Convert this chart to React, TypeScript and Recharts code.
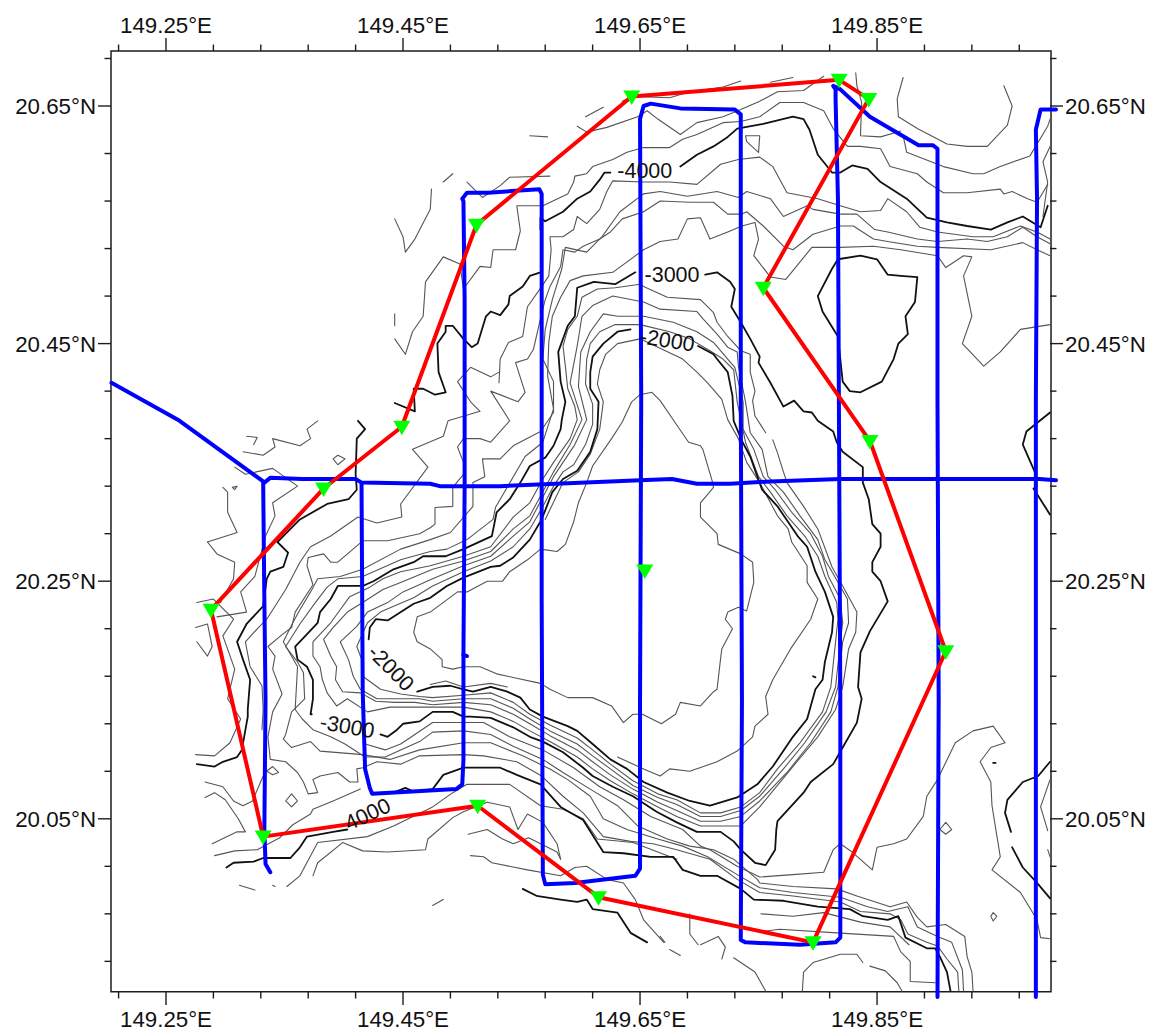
import { ComposedChart, Line, Scatter, XAxis, YAxis, ReferenceArea } from 'recharts'

type Pair = [number, number]

const lonDomain: [number, number] = [149.2036, 150.001]
const latDomain: [number, number] = [19.9, 20.6963]
const frameLon: [number, number] = [149.2036, 149.9968]
const frameLat: [number, number] = [19.9044, 20.6963]
const lonTicks = [149.21, 149.25, 149.29, 149.33, 149.37, 149.41, 149.45, 149.49, 149.53, 149.57, 149.61, 149.65, 149.69, 149.73, 149.77, 149.81, 149.85, 149.89, 149.93, 149.97]
const latTicks = [19.93, 19.97, 20.01, 20.05, 20.09, 20.13, 20.17, 20.21, 20.25, 20.29, 20.33, 20.37, 20.41, 20.45, 20.49, 20.53, 20.57, 20.61, 20.65, 20.69]
const lonLabels = [149.25, 149.45, 149.65, 149.85]
const latLabels = [20.05, 20.25, 20.45, 20.65]

// index contours (heavy)
const c2000West: Pair[] = [[149.421,20.201],[149.422,20.211],[149.427,20.218],[149.437,20.217],[149.459,20.231],[149.473,20.236],[149.487,20.246],[149.501,20.253],[149.524,20.262],[149.532,20.263],[149.543,20.270],[149.557,20.285],[149.567,20.302],[149.576,20.325],[149.585,20.336],[149.597,20.343],[149.608,20.359],[149.614,20.378],[149.615,20.401],[149.608,20.412],[149.608,20.426],[149.610,20.439],[149.619,20.450],[149.631,20.460],[149.642,20.462]]
const c2000East: Pair[] = [[149.699,20.448],[149.712,20.441],[149.715,20.437],[149.724,20.426],[149.728,20.406],[149.729,20.385],[149.736,20.368],[149.743,20.355],[149.749,20.338],[149.753,20.327],[149.766,20.313],[149.783,20.288],[149.791,20.279],[149.798,20.258],[149.806,20.241],[149.813,20.220],[149.812,20.207],[149.806,20.182],[149.804,20.167],[149.798,20.159],[149.791,20.134],[149.779,20.119],[149.762,20.094],[149.749,20.079],[149.732,20.068],[149.709,20.061],[149.692,20.065],[149.673,20.072],[149.653,20.081],[149.639,20.092],[149.625,20.100],[149.610,20.113],[149.597,20.124],[149.589,20.128],[149.568,20.136],[149.557,20.142],[149.549,20.152],[149.538,20.157],[149.524,20.161],[149.509,20.157],[149.501,20.159],[149.490,20.162],[149.475,20.161],[149.462,20.157]]
const c3000West: Pair[] = [[149.646,20.510],[149.629,20.500],[149.611,20.502],[149.597,20.497],[149.595,20.473],[149.589,20.465],[149.581,20.443],[149.583,20.418],[149.587,20.401],[149.584,20.386],[149.583,20.378],[149.577,20.364],[149.570,20.354],[149.557,20.347],[149.549,20.333],[149.540,20.319],[149.529,20.308],[149.525,20.288],[149.501,20.277],[149.486,20.271],[149.467,20.271],[149.459,20.266],[149.442,20.260],[149.425,20.250],[149.416,20.246],[149.395,20.246],[149.389,20.235],[149.380,20.224],[149.378,20.215],[149.359,20.195],[149.361,20.184],[149.369,20.178],[149.374,20.167],[149.374,20.151],[149.372,20.138],[149.373,20.138]]
const c3000East: Pair[] = [[149.431,20.121],[149.437,20.119],[149.445,20.125],[149.450,20.130],[149.464,20.132],[149.475,20.140],[149.492,20.140],[149.501,20.136],[149.507,20.136],[149.524,20.135],[149.543,20.127],[149.557,20.119],[149.568,20.115],[149.585,20.106],[149.602,20.093],[149.610,20.086],[149.627,20.077],[149.644,20.069],[149.664,20.056],[149.681,20.047],[149.698,20.039],[149.718,20.039],[149.729,20.031],[149.735,20.024],[149.747,20.013],[149.756,20.011],[149.764,20.024],[149.765,20.041],[149.766,20.048],[149.788,20.072],[149.794,20.081],[149.813,20.096],[149.821,20.110],[149.833,20.131],[149.837,20.151],[149.834,20.161],[149.836,20.190],[149.844,20.208],[149.859,20.233],[149.853,20.250],[149.846,20.258],[149.846,20.266],[149.853,20.279],[149.853,20.290],[149.846,20.298],[149.843,20.319],[149.838,20.333],[149.838,20.346],[149.821,20.359],[149.816,20.367],[149.813,20.376],[149.800,20.385],[149.795,20.392],[149.788,20.393],[149.780,20.402],[149.771,20.397],[149.760,20.417],[149.750,20.434],[149.751,20.439],[149.743,20.454],[149.735,20.468],[149.727,20.481],[149.730,20.496],[149.726,20.502],[149.715,20.510],[149.705,20.508]]
const c4000SouthWest: Pair[] = [[149.412,20.385],[149.418,20.378],[149.411,20.370],[149.410,20.340],[149.411,20.327],[149.404,20.319],[149.386,20.315],[149.363,20.302],[149.344,20.283],[149.353,20.274],[149.349,20.262],[149.338,20.258],[149.335,20.252],[149.332,20.229],[149.318,20.214],[149.310,20.199],[149.315,20.184],[149.321,20.167],[149.319,20.142],[149.319,20.136],[149.314,20.108],[149.310,20.102],[149.298,20.098],[149.291,20.094],[149.276,20.096]]
const c4000South: Pair[] = [[149.301,20.009],[149.307,20.013],[149.324,20.014],[149.332,20.017],[149.355,20.017],[149.363,20.026],[149.369,20.035],[149.391,20.039],[149.403,20.041]]
const c4000SouthBit: Pair[] = [[149.442,20.072],[149.452,20.076],[149.459,20.073],[149.475,20.075],[149.484,20.087],[149.501,20.093],[149.532,20.093],[149.546,20.087],[149.566,20.079],[149.583,20.060],[149.602,20.049],[149.619,20.022],[149.636,20.021],[149.659,20.018],[149.678,20.018],[149.686,20.007],[149.701,20.002],[149.715,20.002],[149.735,19.991],[149.746,19.982],[149.771,19.981],[149.800,19.976],[149.827,19.974],[149.838,19.968],[149.859,19.965],[149.868,19.968],[149.874,19.950],[149.892,19.941],[149.899,19.941],[149.903,19.934],[149.909,19.921],[149.912,19.905]]
const c4000NorthWest: Pair[] = [[149.443,20.400],[149.460,20.393],[149.459,20.412],[149.467,20.412],[149.477,20.407],[149.486,20.409],[149.480,20.426],[149.479,20.450],[149.486,20.460],[149.486,20.465],[149.492,20.465],[149.501,20.454],[149.508,20.447],[149.513,20.450],[149.520,20.473],[149.524,20.477],[149.532,20.474],[149.539,20.483],[149.540,20.490],[149.551,20.498],[149.557,20.507],[149.566,20.510]]
const c4000North: Pair[] = [[149.566,20.546],[149.566,20.556],[149.570,20.553],[149.585,20.561],[149.597,20.572],[149.608,20.578],[149.616,20.588],[149.620,20.594],[149.625,20.594]]
const c4000NorthEast: Pair[] = [[149.684,20.599],[149.698,20.609],[149.712,20.616],[149.724,20.624],[149.732,20.631],[149.754,20.635],[149.779,20.641],[149.788,20.639],[149.793,20.630],[149.800,20.609],[149.812,20.594],[149.819,20.594],[149.829,20.600],[149.842,20.597],[149.853,20.586],[149.875,20.572],[149.892,20.556],[149.909,20.552],[149.926,20.549],[149.946,20.546],[149.960,20.552],[149.973,20.557],[149.988,20.548],[149.994,20.566]]
const ringEast: Pair[] = [[149.812,20.513],[149.817,20.521],[149.836,20.524],[149.850,20.521],[149.859,20.508],[149.870,20.507],[149.884,20.506],[149.882,20.485],[149.874,20.473],[149.876,20.458],[149.868,20.450],[149.864,20.437],[149.854,20.418],[149.836,20.409],[149.827,20.410],[149.821,20.418],[149.817,20.456],[149.804,20.477],[149.800,20.490],[149.812,20.513]]
const heavyEastA: Pair[] = [[149.996,20.098],[149.986,20.086],[149.973,20.081],[149.960,20.066],[149.958,20.055],[149.963,20.039]]
const heavyEastB: Pair[] = [[149.964,20.026],[149.973,20.009],[149.985,19.996],[149.996,19.983]]
const heavyEastC: Pair[] = [[149.996,20.392],[149.976,20.376],[149.973,20.365],[149.984,20.340]]
const heavyEastD: Pair[] = [[149.982,20.328],[149.996,20.306]]
const heavyDotA: Pair[] = [[149.948,20.097],[149.950,20.097]]
const heavyDotB: Pair[] = [[149.796,20.170],[149.798,20.169]]
const heavyS1: Pair[] = [[149.551,19.991],[149.563,19.985]]
const heavyS2: Pair[] = [[149.564,19.985],[149.583,19.982],[149.597,19.980],[149.605,19.982],[149.610,19.974],[149.631,19.971],[149.642,19.954],[149.656,19.946]]

// intermediate contours (thin)
const summitRing: Pair[] = [[149.473,20.224],[149.462,20.220],[149.459,20.207],[149.462,20.199],[149.473,20.193],[149.483,20.184],[149.483,20.178],[149.492,20.176],[149.501,20.178],[149.515,20.178],[149.529,20.172],[149.543,20.169],[149.566,20.164],[149.574,20.159],[149.589,20.152],[149.610,20.152],[149.626,20.145],[149.636,20.131],[149.644,20.138],[149.652,20.138],[149.668,20.130],[149.680,20.138],[149.684,20.148],[149.701,20.145],[149.712,20.157],[149.715,20.159],[149.718,20.185],[149.719,20.193],[149.728,20.210],[149.722,20.218],[149.724,20.224],[149.733,20.228],[149.740,20.225],[149.746,20.249],[149.745,20.266],[149.735,20.273],[149.716,20.281],[149.715,20.290],[149.701,20.304],[149.701,20.316],[149.712,20.329],[149.711,20.334],[149.703,20.361],[149.701,20.364],[149.691,20.367],[149.682,20.380],[149.667,20.402],[149.660,20.409],[149.650,20.407],[149.643,20.401],[149.635,20.384],[149.626,20.370],[149.610,20.347],[149.605,20.333],[149.598,20.316],[149.594,20.300],[149.587,20.281],[149.580,20.275],[149.566,20.277],[149.555,20.268],[149.540,20.258],[149.534,20.250],[149.521,20.250],[149.504,20.241],[149.496,20.241],[149.473,20.224]]
const inner1800: Pair[] = [[149.570,20.302],[149.585,20.333],[149.598,20.342],[149.608,20.357],[149.616,20.378],[149.619,20.401],[149.614,20.416],[149.616,20.428],[149.621,20.441],[149.631,20.450],[149.650,20.454],[149.686,20.437],[149.698,20.426],[149.707,20.417],[149.719,20.403],[149.724,20.386],[149.733,20.370],[149.740,20.350],[149.751,20.333],[149.766,20.305],[149.775,20.294],[149.778,20.283],[149.791,20.263],[149.791,20.249],[149.800,20.235],[149.794,20.218],[149.777,20.193],[149.762,20.167],[149.756,20.153],[149.758,20.138],[149.747,20.128],[149.745,20.119],[149.732,20.107],[149.715,20.098],[149.692,20.090],[149.675,20.092],[149.667,20.086],[149.653,20.092],[149.631,20.102]]
const inner1800Tail: Pair[] = [[149.473,20.163],[149.486,20.166],[149.501,20.161],[149.524,20.164],[149.538,20.161]]
const band1: Pair[] = [[149.650,20.466],[149.675,20.460],[149.692,20.454],[149.709,20.444],[149.720,20.437],[149.729,20.428],[149.732,20.401],[149.739,20.367],[149.750,20.338],[149.760,20.325],[149.774,20.305],[149.789,20.288],[149.800,20.271],[149.806,20.254],[149.816,20.232],[149.817,20.218],[149.815,20.199],[149.811,20.161],[149.804,20.140],[149.785,20.114],[149.766,20.092],[149.751,20.072],[149.735,20.060],[149.718,20.055],[149.701,20.055],[149.681,20.066],[149.665,20.071],[149.644,20.082],[149.625,20.096],[149.610,20.108],[149.597,20.118],[149.574,20.129],[149.557,20.138],[149.543,20.148],[149.524,20.156],[149.501,20.154],[149.475,20.152],[149.464,20.153],[149.448,20.155],[149.431,20.159],[149.416,20.170],[149.416,20.182],[149.411,20.195],[149.420,20.215],[149.431,20.224],[149.442,20.229],[149.459,20.236],[149.475,20.246],[149.501,20.258],[149.524,20.267],[149.543,20.279],[149.557,20.294],[149.567,20.311],[149.577,20.330],[149.585,20.342],[149.594,20.348],[149.604,20.365],[149.610,20.382],[149.610,20.399],[149.604,20.416],[149.605,20.437],[149.608,20.450],[149.616,20.460],[149.629,20.466],[149.650,20.466]]
const band2: Pair[] = [[149.653,20.473],[149.678,20.468],[149.698,20.460],[149.712,20.451],[149.724,20.437],[149.730,20.430],[149.737,20.401],[149.737,20.378],[149.746,20.361],[149.754,20.338],[149.764,20.327],[149.778,20.308],[149.794,20.290],[149.804,20.271],[149.809,20.254],[149.819,20.235],[149.821,20.215],[149.819,20.199],[149.815,20.161],[149.807,20.140],[149.789,20.114],[149.771,20.092],[149.751,20.069],[149.735,20.057],[149.718,20.052],[149.701,20.052],[149.681,20.062],[149.665,20.068],[149.644,20.078],[149.625,20.092],[149.610,20.103],[149.597,20.113],[149.574,20.124],[149.557,20.134],[149.543,20.143],[149.524,20.151],[149.501,20.151],[149.475,20.149],[149.464,20.151],[149.448,20.151],[149.428,20.151],[149.414,20.159],[149.408,20.170],[149.404,20.184],[149.397,20.199],[149.411,20.212],[149.420,20.224],[149.437,20.232],[149.450,20.241],[149.475,20.252],[149.501,20.263],[149.524,20.271],[149.543,20.288],[149.557,20.300],[149.577,20.338],[149.595,20.365],[149.605,20.386],[149.598,20.414],[149.600,20.443],[149.608,20.460],[149.619,20.475],[149.631,20.473],[149.653,20.473]]
const band3: Pair[] = [[149.653,20.485],[149.667,20.479],[149.698,20.477],[149.703,20.471],[149.715,20.458],[149.724,20.447],[149.732,20.443],[149.733,20.431],[149.739,20.401],[149.743,20.375],[149.753,20.361],[149.758,20.338],[149.771,20.325],[149.785,20.305],[149.800,20.285],[149.806,20.268],[149.812,20.258],[149.825,20.235],[149.826,20.215],[149.821,20.199],[149.817,20.161],[149.811,20.140],[149.794,20.114],[149.774,20.089],[149.751,20.065],[149.735,20.052],[149.718,20.048],[149.701,20.048],[149.681,20.057],[149.665,20.064],[149.644,20.075],[149.625,20.087],[149.610,20.098],[149.597,20.108],[149.574,20.120],[149.557,20.130],[149.543,20.138],[149.524,20.146],[149.501,20.148],[149.475,20.146],[149.460,20.148],[149.443,20.148],[149.427,20.149],[149.414,20.156],[149.399,20.157],[149.393,20.167],[149.394,20.178],[149.389,20.187],[149.383,20.201],[149.391,20.211],[149.403,20.224],[149.416,20.232],[149.433,20.243],[149.448,20.249],[149.475,20.260],[149.501,20.267],[149.524,20.275],[149.543,20.294],[149.557,20.305],[149.577,20.342],[149.591,20.365],[149.601,20.386],[149.591,20.417],[149.597,20.448],[149.601,20.473],[149.610,20.482],[149.627,20.490],[149.653,20.485]]
const band4North: Pair[] = [[149.650,20.500],[149.653,20.498],[149.673,20.489],[149.701,20.487],[149.712,20.476],[149.715,20.468],[149.724,20.456],[149.735,20.444],[149.743,20.441],[149.743,20.426],[149.747,20.410],[149.745,20.402],[149.747,20.389],[149.756,20.375]]
const band4: Pair[] = [[149.762,20.369],[149.766,20.358],[149.771,20.342],[149.774,20.333],[149.788,20.313],[149.800,20.294],[149.812,20.262],[149.821,20.246],[149.833,20.224],[149.832,20.207],[149.826,20.193],[149.821,20.161],[149.815,20.142],[149.800,20.119],[149.779,20.094],[149.751,20.060],[149.735,20.044],[149.718,20.044],[149.701,20.044],[149.681,20.052],[149.665,20.060],[149.644,20.071],[149.625,20.082],[149.610,20.092],[149.597,20.102],[149.574,20.115],[149.557,20.124],[149.543,20.132],[149.524,20.140],[149.501,20.144],[149.475,20.144],[149.456,20.144],[149.439,20.144],[149.420,20.140],[149.403,20.151],[149.394,20.145],[149.386,20.156],[149.382,20.167],[149.380,20.178],[149.374,20.187],[149.374,20.199],[149.389,20.215],[149.397,20.226],[149.405,20.237],[149.422,20.245],[149.433,20.252],[149.448,20.258],[149.473,20.263],[149.501,20.271],[149.524,20.279],[149.543,20.304],[149.557,20.316],[149.568,20.336],[149.577,20.350],[149.591,20.370],[149.597,20.386],[149.595,20.397],[149.589,20.412],[149.587,20.431],[149.585,20.448],[149.589,20.462],[149.597,20.473],[149.601,20.489],[149.614,20.496],[149.629,20.497],[149.650,20.500]]
const lineA: Pair[] = [[149.443,20.454],[149.452,20.441],[149.458,20.460],[149.467,20.473],[149.469,20.502],[149.484,20.523],[149.498,20.517],[149.501,20.496],[149.515,20.515],[149.524,20.514],[149.526,20.529],[149.545,20.529],[149.549,20.545],[149.546,20.566],[149.568,20.566],[149.589,20.576],[149.594,20.586],[149.595,20.591],[149.605,20.593],[149.610,20.599],[149.627,20.605],[149.639,20.611],[149.653,20.615],[149.675,20.615],[149.686,20.622],[149.698,20.626],[149.720,20.636],[149.735,20.637],[149.751,20.641],[149.768,20.653],[149.788,20.653],[149.805,20.646],[149.813,20.631],[149.825,20.616],[149.836,20.616],[149.853,20.614],[149.861,20.599],[149.884,20.593],[149.892,20.586],[149.906,20.577],[149.926,20.577],[149.954,20.580],[149.957,20.576],[149.964,20.578],[149.977,20.572],[149.985,20.569],[149.994,20.584]]
const lineB: Pair[] = [[149.531,20.417],[149.532,20.437],[149.539,20.451],[149.551,20.456],[149.555,20.481],[149.567,20.498],[149.573,20.507],[149.575,20.529],[149.574,20.540],[149.585,20.540],[149.594,20.546],[149.597,20.557],[149.605,20.551],[149.616,20.563],[149.622,20.578],[149.627,20.587],[149.653,20.586],[149.675,20.586],[149.698,20.584],[149.718,20.601],[149.733,20.605],[149.751,20.607],[149.762,20.599],[149.774,20.577],[149.800,20.572],[149.819,20.566],[149.836,20.561],[149.853,20.562],[149.859,20.572],[149.875,20.561],[149.886,20.548],[149.901,20.544],[149.931,20.540],[149.948,20.540],[149.971,20.549],[149.985,20.544],[149.996,20.538]]
const lineBWest: Pair[] = [[149.531,20.426],[149.524,20.422],[149.507,20.430],[149.496,20.418],[149.507,20.401],[149.515,20.393],[149.488,20.385],[149.484,20.372],[149.458,20.361],[149.471,20.346],[149.448,20.315],[149.449,20.304],[149.428,20.299],[149.412,20.304],[149.389,20.288],[149.372,20.279],[149.363,20.266],[149.351,20.243],[149.335,20.218],[149.328,20.211],[149.317,20.199],[149.321,20.178],[149.331,20.162],[149.332,20.142],[149.331,20.125]]
const lineC: Pair[] = [[149.653,20.576],[149.633,20.561],[149.618,20.540],[149.605,20.527],[149.587,20.531],[149.584,20.513],[149.576,20.487],[149.570,20.462],[149.568,20.437],[149.577,20.418],[149.577,20.392],[149.566,20.376],[149.543,20.364],[149.532,20.353],[149.517,20.353],[149.519,20.338],[149.509,20.333],[149.509,20.313],[149.490,20.291],[149.473,20.285],[149.448,20.277],[149.416,20.260],[149.397,20.254],[149.378,20.252],[149.372,20.241],[149.363,20.226],[149.357,20.215],[149.349,20.199],[149.361,20.178],[149.359,20.142],[149.365,20.134],[149.374,20.125],[149.389,20.119],[149.401,20.113],[149.418,20.102],[149.435,20.102],[149.448,20.108],[149.464,20.115],[149.475,20.123],[149.501,20.124],[149.524,20.121],[149.543,20.111],[149.568,20.100],[149.585,20.089],[149.608,20.075],[149.631,20.061],[149.648,20.044],[149.673,20.033],[149.692,20.027],[149.712,20.024],[149.729,20.016],[149.749,19.999],[149.751,19.996],[149.779,19.993],[149.816,19.991],[149.833,19.985],[149.861,19.976],[149.875,19.980],[149.884,19.967],[149.892,19.959],[149.908,19.961],[149.924,19.951],[149.926,19.934],[149.930,19.921],[149.931,19.905]]
const lineCEast: Pair[] = [[149.653,20.576],[149.667,20.578],[149.690,20.574],[149.715,20.578],[149.733,20.573],[149.740,20.578],[149.760,20.572],[149.771,20.557],[149.791,20.566],[149.796,20.563],[149.819,20.559],[149.833,20.559],[149.848,20.546],[149.859,20.544],[149.884,20.538],[149.901,20.536],[149.926,20.538],[149.943,20.536],[149.960,20.540],[149.973,20.548],[149.985,20.540],[149.996,20.534]]
const lineD: Pair[] = [[149.653,20.561],[149.635,20.555],[149.625,20.544],[149.616,20.538],[149.602,20.532],[149.595,20.527],[149.585,20.529],[149.583,20.515],[149.574,20.498],[149.570,20.487],[149.566,20.471],[149.560,20.445],[149.555,20.437],[149.545,20.434],[149.553,20.409],[149.547,20.401],[149.524,20.410],[149.540,20.385],[149.524,20.367],[149.515,20.370],[149.501,20.370],[149.496,20.363],[149.501,20.350],[149.501,20.340],[149.492,20.329],[149.492,20.313],[149.477,20.312],[149.477,20.298],[149.473,20.295],[149.464,20.290],[149.437,20.284],[149.416,20.284],[149.395,20.266],[149.389,20.266],[149.383,20.273],[149.370,20.270],[149.369,20.263],[149.374,20.247],[149.359,20.224],[149.356,20.211],[149.348,20.205],[149.336,20.195],[149.342,20.187],[149.340,20.176],[149.348,20.155],[149.340,20.140],[149.336,20.119],[149.338,20.100],[149.351,20.098],[149.361,20.089],[149.366,20.081],[149.370,20.071],[149.378,20.072],[149.374,20.083],[149.380,20.086],[149.395,20.089],[149.405,20.081],[149.412,20.081],[149.411,20.092],[149.416,20.093],[149.428,20.098],[149.448,20.096],[149.464,20.103],[149.501,20.104],[149.518,20.103],[149.546,20.098],[149.567,20.086],[149.585,20.069],[149.602,20.055],[149.619,20.035],[149.642,20.031],[149.661,20.029],[149.681,20.024],[149.709,20.016],[149.732,19.999],[149.751,19.988],[149.779,19.985],[149.819,19.980],[149.836,19.972],[149.861,19.970],[149.870,19.965],[149.876,19.953],[149.892,19.946],[149.901,19.943],[149.909,19.932],[149.918,19.921],[149.919,19.905]]
const lineDEast: Pair[] = [[149.653,20.561],[149.667,20.570],[149.692,20.569],[149.712,20.569],[149.724,20.559],[149.736,20.559],[149.740,20.561],[149.754,20.549],[149.771,20.532],[149.779,20.529],[149.796,20.542],[149.819,20.549],[149.830,20.549],[149.847,20.538],[149.859,20.536],[149.884,20.532],[149.901,20.531],[149.946,20.529],[149.973,20.535],[149.985,20.529],[149.996,20.524]]
const lineE: Pair[] = [[149.653,20.529],[149.627,20.510],[149.602,20.507],[149.591,20.503],[149.583,20.489],[149.576,20.473],[149.573,20.451],[149.572,20.423],[149.577,20.395],[149.568,20.367],[149.553,20.355],[149.528,20.312],[149.526,20.302],[149.504,20.285],[149.487,20.277],[149.473,20.275],[149.448,20.268],[149.416,20.254],[149.395,20.252],[149.386,20.245],[149.376,20.232],[149.363,20.214],[149.351,20.195],[149.361,20.182],[149.366,20.173],[149.367,20.151],[149.356,20.140],[149.351,20.121],[149.349,20.117],[149.356,20.110],[149.372,20.115],[149.380,20.107],[149.416,20.104],[149.439,20.100],[149.464,20.108],[149.501,20.114],[149.524,20.114],[149.551,20.103],[149.574,20.092],[149.589,20.083],[149.608,20.069],[149.619,20.050],[149.639,20.041],[149.665,20.033],[149.686,20.027],[149.707,20.018],[149.732,20.003],[149.751,19.992],[149.779,19.988],[149.819,19.984],[149.842,19.976],[149.859,19.972],[149.876,19.976],[149.884,19.959],[149.901,19.951],[149.913,19.946],[149.922,19.923],[149.923,19.905]]
const lineEEast: Pair[] = [[149.653,20.529],[149.667,20.536],[149.682,20.538],[149.690,20.555],[149.701,20.556],[149.709,20.538],[149.724,20.544],[149.736,20.549],[149.747,20.552],[149.750,20.538],[149.746,20.524],[149.760,20.506],[149.773,20.504],[149.795,20.531],[149.819,20.531],[149.847,20.532],[149.870,20.529],[149.901,20.524],[149.908,20.514],[149.923,20.524],[149.930,20.523],[149.923,20.507],[149.930,20.473],[149.922,20.450],[149.940,20.431],[149.954,20.443],[149.971,20.462],[149.996,20.466]]
const tLine0: Pair[] = [[149.418,20.113],[149.435,20.108],[149.448,20.113],[149.460,20.121],[149.475,20.131],[149.518,20.131],[149.540,20.119],[149.568,20.108],[149.594,20.093],[149.616,20.077],[149.636,20.066],[149.659,20.052],[149.686,20.041],[149.701,20.027],[149.709,20.024],[149.732,20.010],[149.751,20.001],[149.779,20.003],[149.805,20.005],[149.813,20.024],[149.819,20.029],[149.829,20.022],[149.846,20.007],[149.850,20.026],[149.864,20.029],[149.875,20.033],[149.889,20.052],[149.892,20.069],[149.901,20.083],[149.916,20.114],[149.931,20.124],[149.948,20.128],[149.958,20.114],[149.946,20.110],[149.937,20.098],[149.946,20.081],[149.947,20.061],[149.954,20.018],[149.947,20.007],[149.971,19.988],[149.985,19.965],[149.988,19.950],[149.996,19.949]]
const topA: Pair[] = [[149.597,20.633],[149.605,20.628],[149.622,20.632],[149.648,20.641],[149.656,20.646],[149.665,20.639],[149.684,20.626],[149.698,20.636],[149.720,20.641],[149.735,20.647],[149.751,20.654],[149.766,20.662],[149.788,20.663],[149.802,20.673],[149.805,20.675]]
const topB: Pair[] = [[149.635,20.654],[149.644,20.658],[149.675,20.657],[149.692,20.662],[149.720,20.666],[149.735,20.671]]
const topC: Pair[] = [[149.760,20.670],[149.779,20.674]]
const topD: Pair[] = [[149.604,20.641],[149.619,20.649]]
const topE: Pair[] = [[149.557,20.625],[149.572,20.624]]
const topF: Pair[] = [[149.504,20.586],[149.517,20.573],[149.532,20.583],[149.540,20.590],[149.574,20.591]]
const topG: Pair[] = [[149.484,20.586],[149.492,20.593]]
const topH: Pair[] = [[149.832,20.678],[149.833,20.667],[149.837,20.653],[149.836,20.625],[149.853,20.624],[149.870,20.629]]
const bowlA: Pair[] = [[149.872,20.674],[149.867,20.656],[149.868,20.641],[149.884,20.631],[149.909,20.618],[149.926,20.616],[149.943,20.616],[149.960,20.634],[149.964,20.650],[149.957,20.667]]
const bowlB: Pair[] = [[149.872,20.625],[149.875,20.611],[149.906,20.599],[149.931,20.593],[149.940,20.593],[149.954,20.599],[149.979,20.608],[149.994,20.633],[149.996,20.639]]
const edgeTop: Pair[] = [[149.996,20.616],[149.990,20.603],[149.994,20.586],[149.990,20.557]]
const pentagon: Pair[] = [[149.739,20.625],[149.751,20.625],[149.750,20.611],[149.740,20.620],[149.739,20.625]]
const westA: Pair[] = [[149.443,20.555],[149.450,20.540],[149.452,20.527],[149.460,20.538],[149.473,20.563],[149.474,20.580]]
const westB: Pair[] = [[149.443,20.475],[149.443,20.465]]
const westC: Pair[] = [[149.308,20.346],[149.317,20.340],[149.340,20.345],[149.361,20.330],[149.340,20.316],[149.342,20.305],[149.334,20.288],[149.325,20.254],[149.313,20.241],[149.318,20.224],[149.293,20.220]]
const westD: Pair[] = [[149.315,20.359],[149.332,20.356],[149.342,20.363],[149.340,20.370],[149.363,20.364],[149.372,20.370],[149.369,20.378],[149.378,20.385]]
const westE: Pair[] = [[149.318,20.372],[149.327,20.371],[149.324,20.365]]
const westF: Pair[] = [[149.285,20.283],[149.310,20.291],[149.302,20.308],[149.302,20.325],[149.298,20.329]]
const westG: Pair[] = [[149.285,20.283],[149.293,20.273],[149.308,20.266],[149.307,20.252],[149.296,20.232]]
const westH: Pair[] = [[149.276,20.232],[149.290,20.235],[149.307,20.218],[149.298,20.204],[149.308,20.176],[149.302,20.151],[149.313,20.134],[149.304,20.114],[149.291,20.103],[149.275,20.104]]
const westI: Pair[] = [[149.276,20.199],[149.285,20.187],[149.289,20.195],[149.285,20.214],[149.275,20.211]]
const southA: Pair[] = [[149.283,20.081],[149.298,20.077],[149.307,20.065],[149.315,20.061],[149.323,20.065],[149.332,20.086]]
const southB: Pair[] = [[149.283,20.068],[149.291,20.072],[149.300,20.066],[149.311,20.050],[149.317,20.039],[149.310,20.039],[149.289,20.029]]
const southC: Pair[] = [[149.291,20.019],[149.308,20.023],[149.327,20.024],[149.346,20.034],[149.357,20.045],[149.372,20.054],[149.374,20.058],[149.391,20.065],[149.414,20.075]]
const lowA: Pair[] = [[149.507,20.019],[149.518,20.018],[149.525,20.013],[149.555,20.007],[149.583,20.002],[149.595,20.009],[149.605,20.010],[149.622,19.999],[149.636,19.996],[149.646,19.982],[149.653,19.965],[149.670,19.946]]
const lowB: Pair[] = [[149.505,20.037],[149.521,20.041],[149.534,20.033],[149.543,20.029],[149.556,20.034],[149.580,20.022],[149.583,20.016]]
const lowC: Pair[] = [[149.374,20.002],[149.378,20.013],[149.399,20.030],[149.416,20.023],[149.437,20.022],[149.469,20.024],[149.471,20.033],[149.492,20.051],[149.501,20.056],[149.521,20.064],[149.540,20.060],[149.547,20.041],[149.555,20.054],[149.568,20.047],[149.580,20.029],[149.583,20.016]]
const lowD: Pair[] = [[149.352,19.993],[149.363,20.002],[149.378,20.030],[149.420,20.035],[149.442,20.044],[149.475,20.060],[149.492,20.072],[149.504,20.079],[149.540,20.079],[149.566,20.061],[149.585,20.058],[149.602,20.050],[149.614,20.033],[149.644,20.030],[149.665,20.022],[149.681,20.016]]
const tailA: Pair[] = [[149.752,19.970],[149.779,19.968],[149.805,19.971],[149.836,19.963],[149.861,19.959],[149.877,19.944]]
const tailB: Pair[] = [[149.752,19.955],[149.768,19.957],[149.816,19.954],[149.864,19.951],[149.870,19.938],[149.878,19.930],[149.878,19.913],[149.899,19.912]]
const hillA: Pair[] = [[149.787,19.905],[149.788,19.921],[149.796,19.929],[149.819,19.936],[149.833,19.936],[149.838,19.929]]
const hillB: Pair[] = [[149.844,19.926],[149.857,19.922],[149.867,19.912],[149.871,19.905]]
const hillC: Pair[] = [[149.729,19.933],[149.747,19.921],[149.756,19.905]]
const hillD: Pair[] = [[149.701,19.944],[149.716,19.951],[149.722,19.942],[149.719,19.932]]
const hillE: Pair[] = [[149.692,19.970],[149.692,19.953],[149.699,19.944]]
const bitsA: Pair[] = [[149.667,19.951],[149.671,19.946]]
const bitsB: Pair[] = [[149.675,19.940],[149.684,19.935]]
const bitsC: Pair[] = [[149.312,19.994],[149.325,19.990]]
const bitsD: Pair[] = [[149.340,19.994],[149.342,19.993]]
const bitsE: Pair[] = [[149.475,19.977],[149.484,19.982]]
const diamondA: Pair[] = [[149.903,20.041],[149.908,20.047],[149.913,20.041],[149.908,20.037],[149.903,20.041]]
const diamondB: Pair[] = [[149.946,19.968],[149.948,19.971],[149.951,19.968],[149.948,19.964],[149.946,19.968]]
const diamondC: Pair[] = [[149.351,20.065],[149.356,20.071],[149.361,20.065],[149.356,20.060],[149.351,20.065]]
const diamondD: Pair[] = [[149.335,20.090],[149.340,20.094],[149.345,20.089],[149.340,20.087],[149.335,20.090]]
const diamondE: Pair[] = [[149.391,20.353],[149.395,20.356],[149.401,20.353],[149.395,20.348],[149.391,20.353]]
const diamondF: Pair[] = [[149.306,20.329],[149.310,20.330],[149.308,20.327],[149.306,20.329]]
const edgeA: Pair[] = [[149.996,20.083],[149.988,20.060],[149.994,20.040]]
const edgeB: Pair[] = [[149.994,20.024],[149.996,20.018]]

const heavyContours = [c2000West, c2000East, c3000West, c3000East, c4000SouthWest, c4000South, c4000SouthBit, c4000NorthWest, c4000North, c4000NorthEast, ringEast, heavyEastA, heavyEastB, heavyEastC, heavyEastD, heavyDotA, heavyDotB, heavyS1, heavyS2]
const thinContours = [summitRing, inner1800, inner1800Tail, band1, band2, band3, band4North, band4, lineA, lineB, lineBWest, lineC, lineCEast, lineD, lineDEast, lineE, lineEEast, tLine0, topA, topB, topC, topD, topE, topF, topG, topH, bowlA, bowlB, edgeTop, pentagon, westA, westB, westC, westD, westE, westF, westG, westH, westI, southA, southB, southC, lowA, lowB, lowC, lowD, tailA, tailB, hillA, hillB, hillC, hillD, hillE, bitsA, bitsB, bitsC, bitsD, bitsE, diamondA, diamondB, diamondC, diamondD, diamondE, diamondF, edgeA, edgeB]

// ship tracks
const trackApproach: Pair[] = [[149.204,20.417],[149.260,20.386],[149.332,20.334],[149.333,20.235],[149.334,20.150],[149.333,20.041],[149.334,20.012],[149.338,20.005]]
const trackCross: Pair[] = [[149.333,20.333],[149.338,20.337],[149.365,20.336],[149.410,20.336],[149.415,20.333],[149.473,20.332],[149.481,20.330],[149.532,20.330],[149.650,20.335],[149.677,20.336],[149.698,20.332],[149.726,20.332],[149.760,20.334],[149.819,20.336],[149.888,20.336],[149.950,20.336],[149.987,20.336],[150.001,20.335]]
const trackGrid: Pair[] = [[149.415,20.332],[149.416,20.157],[149.418,20.092],[149.422,20.076],[149.424,20.071],[149.495,20.075],[149.500,20.079],[149.501,20.100],[149.501,20.190],[149.502,20.330],[149.502,20.487],[149.501,20.570],[149.500,20.572],[149.504,20.577],[149.522,20.577],[149.565,20.580],[149.567,20.576],[149.567,20.403],[149.567,20.235],[149.568,20.003],[149.570,19.995],[149.595,19.996],[149.646,20.002],[149.650,20.008],[149.650,20.150],[149.651,20.403],[149.650,20.639],[149.653,20.650],[149.659,20.652],[149.684,20.648],[149.730,20.647],[149.735,20.643],[149.735,20.403],[149.736,20.150],[149.735,19.948],[149.739,19.946],[149.785,19.944],[149.815,19.946],[149.819,19.950],[149.819,20.150],[149.817,20.572],[149.815,20.656],[149.815,20.664],[149.813,20.667],[149.819,20.664],[149.844,20.641],[149.885,20.617],[149.897,20.617],[149.901,20.614],[149.901,20.403],[149.902,20.150],[149.901,19.900]]
const trackLast: Pair[] = [[149.984,19.900],[149.984,20.150],[149.984,20.403],[149.985,20.572],[149.984,20.630],[149.988,20.647],[150.001,20.647]]
const trackStub: Pair[] = [[149.501,20.188],[149.504,20.187]]

const route: Pair[] = [[149.288,20.226],[149.383,20.328],[149.449,20.380],[149.512,20.550],[149.643,20.658],[149.818,20.672],[149.843,20.656],[149.754,20.497],[149.844,20.368],[149.908,20.191],[149.796,19.946],[149.615,19.984],[149.513,20.061],[149.332,20.035],[149.288,20.226]]
const stations: Pair[] = [[149.288,20.226],[149.383,20.328],[149.449,20.380],[149.512,20.550],[149.643,20.658],[149.818,20.672],[149.843,20.656],[149.754,20.497],[149.844,20.368],[149.908,20.191],[149.796,19.946],[149.615,19.984],[149.513,20.061],[149.332,20.035],[149.654,20.259]]

const contourLabelPoints: Pair[] = [[149.654,20.596],[149.677,20.508],[149.673,20.453],[149.440,20.177],[149.403,20.128],[149.420,20.054]]
const contourLabelTexts = ['-4000', '-3000', '-2000', '-2000', '-3000', '4000']
const contourLabelAngles = [0, 0, 9, 45, 10, -25]

const toPoints = (pairs: Pair[]) => pairs.map(([lon, lat]) => ({ lon, lat }))

const AXIS = '#1c1c1c'
const FONT = '"Liberation Sans", Arial, sans-serif'
// the plot runs a little past the frame so that the tracks can overshoot it
const OVERSHOOT_X = 6
const OVERSHOOT_Y = 5

function LonTick({ x, y, payload, side }: any) {
  const major = lonLabels.includes(payload.value)
  const top = side === 'top'
  const y0 = top ? y : y - OVERSHOOT_Y
  return (
    <g>
      <line x1={x} x2={x} y1={y0} y2={y0 + (top ? -1 : 1) * (major ? 13 : 6.5)} stroke={AXIS} strokeWidth={1.4} />
      {major && (
        <text x={x} y={top ? y0 - 18 : y0 + 35} textAnchor="middle" fontSize={22.3} fontFamily={FONT} fill="#111">
          {payload.value.toFixed(2)}°E
        </text>
      )}
    </g>
  )
}

function LatTick({ x, y, payload, side }: any) {
  const major = latLabels.includes(payload.value)
  const left = side === 'left'
  const x0 = left ? x : x - OVERSHOOT_X
  return (
    <g>
      <line x1={x0} x2={x0 + (left ? -1 : 1) * (major ? 13 : 6.5)} y1={y} y2={y} stroke={AXIS} strokeWidth={1.4} />
      {major && (
        <text x={left ? x0 - 15 : x0 + 15} y={y + 8} textAnchor={left ? 'end' : 'start'} fontSize={22.3} fontFamily={FONT} fill="#111">
          {payload.value.toFixed(2)}°N
        </text>
      )}
    </g>
  )
}

function StationMark({ cx, cy }: any) {
  return <polygon points={`${cx - 8.5},${cy - 6} ${cx + 8.5},${cy - 6} ${cx},${cy + 8.5}`} fill="#00ff00" />
}

function ContourLabel({ cx, cy, index }: any) {
  return (
    <text
      x={cx}
      y={cy + 7.5}
      textAnchor="middle"
      fontSize={21.5}
      fontFamily={FONT}
      fill="#111"
      transform={`rotate(${contourLabelAngles[index]} ${cx} ${cy})`}
    >
      {contourLabelTexts[index]}
    </text>
  )
}

export default function App() {
  const line = (pairs: Pair[], key: string, stroke: string, width: number) => (
    <Line
      key={key}
      data={toPoints(pairs)}
      dataKey="lat"
      xAxisId="lon"
      yAxisId="lat"
      stroke={stroke}
      strokeWidth={width}
      strokeLinejoin="round"
      strokeLinecap="round"
      dot={false}
      activeDot={false}
      legendType="none"
      isAnimationActive={false}
    />
  )

  return (
    <div style={{ position: 'absolute', left: 0, top: 0, width: 1161, height: 1034, background: '#fff' }}>
      <ComposedChart width={1161} height={1034} margin={{ top: 0, right: 0, bottom: 0, left: 0 }}>
        <XAxis xAxisId="lon" dataKey="lon" type="number" orientation="bottom" height={37} domain={lonDomain} ticks={lonTicks} interval={0} axisLine={false} tickLine={false} tickSize={0} tickMargin={0} tick={<LonTick side="bottom" />} />
        <XAxis xAxisId="lonTop" dataKey="lon" type="number" orientation="top" height={51} domain={lonDomain} ticks={lonTicks} interval={0} axisLine={false} tickLine={false} tickSize={0} tickMargin={0} tick={<LonTick side="top" />} />
        <YAxis yAxisId="lat" dataKey="lat" type="number" orientation="left" width={111} domain={latDomain} ticks={latTicks} interval={0} axisLine={false} tickLine={false} tickSize={0} tickMargin={0} tick={<LatTick side="left" />} />
        <YAxis yAxisId="latRight" dataKey="lat" type="number" orientation="right" width={105} domain={latDomain} ticks={latTicks} interval={0} axisLine={false} tickLine={false} tickSize={0} tickMargin={0} tick={<LatTick side="right" />} />
        <ReferenceArea xAxisId="lon" yAxisId="lat" x1={frameLon[0]} x2={frameLon[1]} y1={frameLat[0]} y2={frameLat[1]} fill="none" stroke={AXIS} strokeWidth={1.5} />
        <Line data={toPoints([[lonTicks[0], latTicks[0]], [lonTicks[19], latTicks[19]]])} dataKey="lat" xAxisId="lonTop" yAxisId="latRight" stroke="none" dot={false} activeDot={false} legendType="none" isAnimationActive={false} />
        {thinContours.map((c, i) => line(c, `thin-${i}`, '#555555', 1.1))}
        {heavyContours.map((c, i) => line(c, `heavy-${i}`, '#111111', 1.8))}
        {line(trackApproach, 'approach', '#0000ff', 4)}
        {line(trackCross, 'cross', '#0000ff', 4)}
        {line(trackGrid, 'grid', '#0000ff', 4)}
        {line(trackLast, 'last', '#0000ff', 4)}
        {line(trackStub, 'stub', '#0000ff', 4)}
        {line(route, 'route', '#ff0000', 4)}
        <Scatter data={toPoints(stations)} xAxisId="lon" yAxisId="lat" shape={<StationMark />} isAnimationActive={false} />
        <Scatter data={toPoints(contourLabelPoints)} xAxisId="lon" yAxisId="lat" shape={(p: any) => <ContourLabel {...p} />} isAnimationActive={false} />
      </ComposedChart>
    </div>
  )
}
